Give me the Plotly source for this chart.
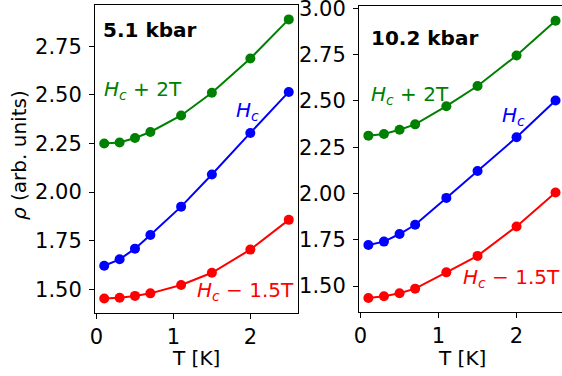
import plotly.graph_objects as go

T = [0.1, 0.3, 0.5, 0.7, 1.1, 1.5, 2.0, 2.5]

# 5.1 kbar
p5_plus2 = [2.25, 2.255, 2.278, 2.309, 2.394, 2.511, 2.687, 2.888]
p5_hc = [1.621, 1.654, 1.709, 1.779, 1.925, 2.090, 2.304, 2.515]
p5_minus15 = [1.453, 1.456, 1.466, 1.479, 1.522, 1.585, 1.704, 1.857]

# 10.2 kbar
p10_plus2 = [2.312, 2.321, 2.344, 2.373, 2.471, 2.580, 2.745, 2.932]
p10_hc = [1.722, 1.740, 1.781, 1.831, 1.976, 2.121, 2.303, 2.502]
p10_minus15 = [1.436, 1.445, 1.461, 1.486, 1.574, 1.663, 1.822, 2.005]

xticks = [0, 1, 2]
yticks_left = [1.50, 1.75, 2.00, 2.25, 2.50, 2.75]
yticks_right = [1.50, 1.75, 2.00, 2.25, 2.50, 2.75, 3.00]

W, H = 562, 376
FONT = "DejaVu Sans"
FS_TICK = 21
FS = 20

fig = go.Figure()
colors = {"plus": "#008000", "hc": "#0000ff", "minus": "#ff0000"}

def add(y, col, xa, ya):
    fig.add_trace(go.Scatter(x=T, y=y, mode="lines+markers", xaxis=xa, yaxis=ya,
                             line=dict(color=col, width=2),
                             marker=dict(color=col, size=10),
                             showlegend=False, cliponaxis=False, hoverinfo="skip"))

add(p5_plus2, colors["plus"], "x", "y")
add(p5_hc, colors["hc"], "x", "y")
add(p5_minus15, colors["minus"], "x", "y")
add(p10_plus2, colors["plus"], "x2", "y2")
add(p10_hc, colors["hc"], "x2", "y2")
add(p10_minus15, colors["minus"], "x2", "y2")

axis_common = dict(showgrid=False, zeroline=False, showline=True, linecolor="black",
                   linewidth=1, ticks="outside", ticklen=5, tickwidth=1, tickcolor="black",
                   automargin=False, ticklabeloverflow="allow",
                   tickfont=dict(family=FONT, size=FS_TICK, color="black"))

fig.update_layout(
    width=W, height=H, margin=dict(l=0, r=0, t=0, b=0),
    paper_bgcolor="white", plot_bgcolor="white",
    xaxis=dict(domain=[95 / W, 298 / W], range=[-0.02, 2.62], tickvals=xticks,
               mirror=True, anchor="y", **axis_common),
    yaxis=dict(domain=[(H - 313) / H, (H - 5) / H], range=[1.378, 2.962],
               tickvals=yticks_left, ticktext=[f"{v:.2f}" for v in yticks_left],
               mirror=True, anchor="x", ticklabelstandoff=3, **axis_common),
    xaxis2=dict(domain=[359 / W, 1.0], range=[-0.02, 2.583], tickvals=xticks,
                mirror=True, anchor="y2", **axis_common),
    yaxis2=dict(domain=[(H - 312) / H, (H - 6) / H], range=[1.36, 3.012],
                tickvals=yticks_right, ticktext=[f"{v:.2f}" for v in yticks_right],
                mirror=False, anchor="x2", ticklabelstandoff=3, **axis_common),
)

def ann(text, x, y, color="black", size=FS, xanchor="left", yanchor="middle", angle=0):
    fig.add_annotation(text=text, x=x / W, y=1 - y / H, xref="paper", yref="paper",
                       showarrow=False, xanchor=xanchor, yanchor=yanchor, textangle=angle,
                       font=dict(family=FONT, size=size, color=color))

# panel titles
ann("<b>5.1 kbar</b>", 101, 30, size=20)
ann("<b>10.2 kbar</b>", 369, 38, size=20)

# curve labels
ann("<i>H</i><sub><i>c</i></sub> + 2T", 102, 90, colors["plus"])
ann("<i>H</i><sub><i>c</i></sub>", 234, 111, colors["hc"])
ann("<i>H</i><sub><i>c</i></sub> − 1.5T", 195, 291, colors["minus"])
ann("<i>H</i><sub><i>c</i></sub> + 2T", 369, 95, colors["plus"])
ann("<i>H</i><sub><i>c</i></sub>", 500, 116, colors["hc"])
ann("<i>H</i><sub><i>c</i></sub> − 1.5T", 461, 278, colors["minus"])

# axis titles
ann("T [K]", 196, 358, xanchor="center")
ann("T [K]", 462, 358, xanchor="center")
ann("<i>ρ</i> (arb. units)", 19, 155, xanchor="center", angle=-90)

fig.write_html("out.html", config={"displayModeBar": False},
               post_script="document.body.style.margin='0';document.body.style.padding='0';document.body.style.overflow='hidden';")
